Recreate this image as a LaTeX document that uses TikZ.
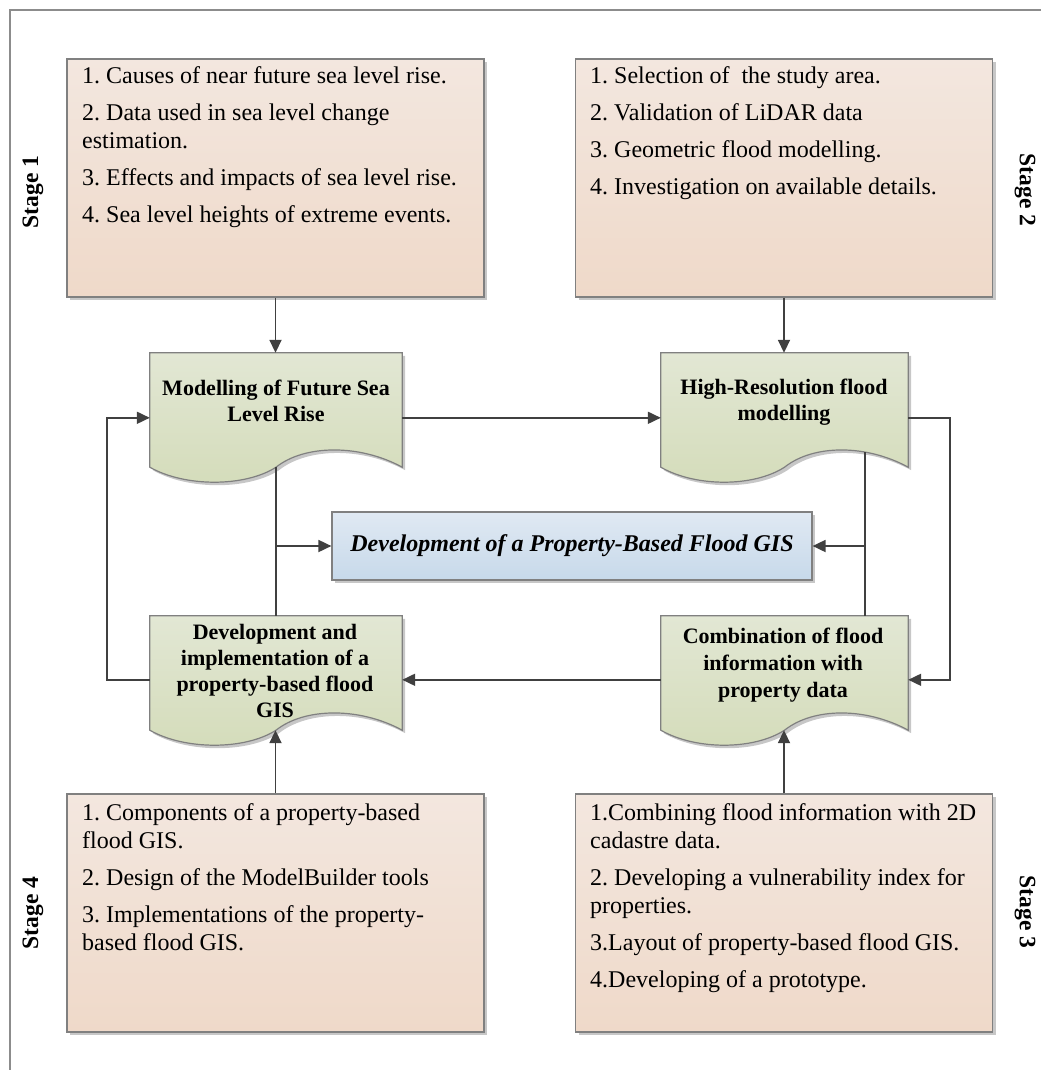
\documentclass[tikz,border=0pt]{standalone}
\usepackage{fontspec}
\setmainfont{Liberation Serif}
\usetikzlibrary{arrows.meta,calc,shadows}
\frenchspacing
\definecolor{linec}{HTML}{404040}
\definecolor{boxdraw}{HTML}{808080}
\definecolor{peachtop}{HTML}{F3E7DF}
\definecolor{peachbot}{HTML}{EFD9C9}
\definecolor{greentop}{HTML}{E2E7D4}
\definecolor{greenbot}{HTML}{D4DCBA}
\definecolor{bluetop}{HTML}{E0E9F3}
\definecolor{bluebot}{HTML}{C7D9EA}
\definecolor{framec}{HTML}{8C8C8C}
\newcommand\mydocshape[1]{%
  \path[docpath] (#1.north west) -- (#1.north east) -- (#1.south east)
    .. controls ($(#1.south east)+(-42,-23)$) and ($(#1.south)+(29,-23)$) .. (#1.south)
    .. controls ($(#1.south)+(-31,20)$) and ($(#1.south west)+(35,20)$) .. (#1.south west)
    -- cycle;}
\begin{document}
\frenchspacing
\begin{tikzpicture}[x=1pt,y=-1pt,
  shad/.style={drop shadow={shadow xshift=3pt,shadow yshift=-3pt,fill=black!22,opacity=1}},
  peachbox/.style={draw=boxdraw,line width=1.2pt,top color=peachtop,bottom color=peachbot,
     minimum width=417pt,minimum height=238pt,inner sep=0pt,shad},
  bluebox/.style={draw=boxdraw,line width=1.2pt,top color=bluetop,bottom color=bluebot,
     minimum width=480pt,minimum height=68pt,inner sep=0pt,shad,
     font=\bfseries\itshape\fontsize{24}{28}\selectfont},
  docgeo/.style={minimum width=252pt,minimum height=114pt,inner sep=0pt},
  docpath/.style={draw=boxdraw,line width=1.2pt,top color=greentop,bottom color=greenbot,shad},
  listtext/.style={anchor=north west,align=left,inner sep=0pt,font=\frenchspacing\fontsize{24}{28}\selectfont},
  doctext/.style={anchor=north,align=center,inner sep=0pt,font=\bfseries\fontsize{22}{26}\selectfont},
  stagel/.style={inner sep=0pt,font=\bfseries\fontsize{23.5}{27}\selectfont},
  arr/.style={draw=linec,line width=1.8pt,-{Triangle[length=13pt,width=12pt]}},
  plain/.style={draw=linec,line width=1.8pt}]
\useasboundingbox (0,0) rectangle (1041,1070);
% frame
\coordinate (fa) at (10,1070);
\coordinate (fb) at (10,10);
\coordinate (fc) at (1041,10);
\draw[framec,line width=1.5pt] (fa) -- (fb) -- (fc);

% peach boxes
\node[peachbox] (tl) at (275.5,178) {};
\node[peachbox] (tr) at (784,178) {};
\node[peachbox] (bl) at (275.5,913) {};
\node[peachbox] (br) at (784,913) {};

\node[listtext] (tlt) at (82,65) {\rule{0pt}{18pt}1. Causes of near future sea level rise.\\[9pt]
2. Data used in sea level change\\estimation.\\[9pt]
3. Effects and impacts of sea level rise.\\[9pt]
4. Sea level heights of extreme events.};
\node[listtext] (trt) at (590,65) {\rule{0pt}{18pt}1. Selection of~ the study area.\\[9pt]
2. Validation of LiDAR data\\[9pt]
3. Geometric flood modelling.\\[9pt]
4. Investigation on available details.};
\node[listtext] (blt) at (82,802) {\rule{0pt}{18pt}1. Components of a property-based\\flood GIS.\\[9pt]
2. Design of the ModelBuilder tools\\[9pt]
3. Implementations of the property-\\based flood GIS.};
\node[listtext] (brt) at (590,802) {\rule{0pt}{18pt}1.Combining flood information with 2D\\cadastre data.\\[9pt]
2. Developing a vulnerability index for\\properties.\\[9pt]
3.Layout of property-based flood GIS.\\[9pt]
4.Developing of a prototype.};

% stage labels
\node[stagel,rotate=90] (s1) at (33,192) {Stage 1};
\node[stagel,rotate=-90] (s2) at (1025,190) {Stage 2};
\node[stagel,rotate=-90] (s3) at (1025,912) {Stage 3};
\node[stagel,rotate=90] (s4) at (33,913) {Stage 4};

% document shapes
\node[docgeo] (mod) at (276,410) {};
\node[docgeo,minimum width=247pt] (hr) at (784.5,410) {};
\node[docgeo] (dev) at (276,673) {};
\node[docgeo,minimum width=247pt] (comb) at (784.5,673) {};
\mydocshape{mod}
\mydocshape{hr}
\mydocshape{dev}
\mydocshape{comb}

\node[doctext] (modt) at (276,378) {\rule{0pt}{17pt}Modelling of Future Sea\\Level Rise};
\node[doctext] (hrt) at (784,377) {\rule{0pt}{17pt}High-Resolution flood\\modelling};
\node[doctext] (devt) at (275,622) {\rule{0pt}{17pt}Development and\\implementation of a\\property-based flood\\GIS};
\node[doctext,font=\bfseries\fontsize{22}{27}\selectfont] (combt) at (783,626) {\rule{0pt}{17pt}Combination of flood\\information with\\property data};

% centre box
\node[bluebox] (ctr) at (572,546) {Development of a Property-Based Flood GIS};

% connectors
\draw[arr] (tl.south) -- (tl.south |- mod.north);
\draw[arr] (tr.south) -- (tr.south |- hr.north);
\draw[arr] ([yshift=-65pt]mod.north east) -- ([yshift=-65pt]hr.north west);
\draw[arr] ([yshift=-65pt]hr.north east) -- ++(42,0) |- ([yshift=-64pt]comb.north east);
\draw[arr] ([yshift=-64pt]comb.north west) -- ([yshift=-64pt]dev.north east);
\draw[arr] ([yshift=-64pt]dev.north west) -- ++(-43,0) |- ([yshift=-65pt]mod.north west);
\draw[plain] (mod.south) -- (mod.south |- dev.north);
\draw[arr] (mod.south |- ctr.west) -- (ctr.west);
\coordinate (hrtap) at (865,452);
\draw[plain] (hrtap) -- (hrtap |- comb.north);
\draw[arr] (hrtap |- ctr.east) -- (ctr.east);
\draw[arr] (bl.north) -- (bl.north |- dev.south);
\draw[arr] (br.north) -- (br.north |- comb.south);
\end{tikzpicture}
\end{document}
